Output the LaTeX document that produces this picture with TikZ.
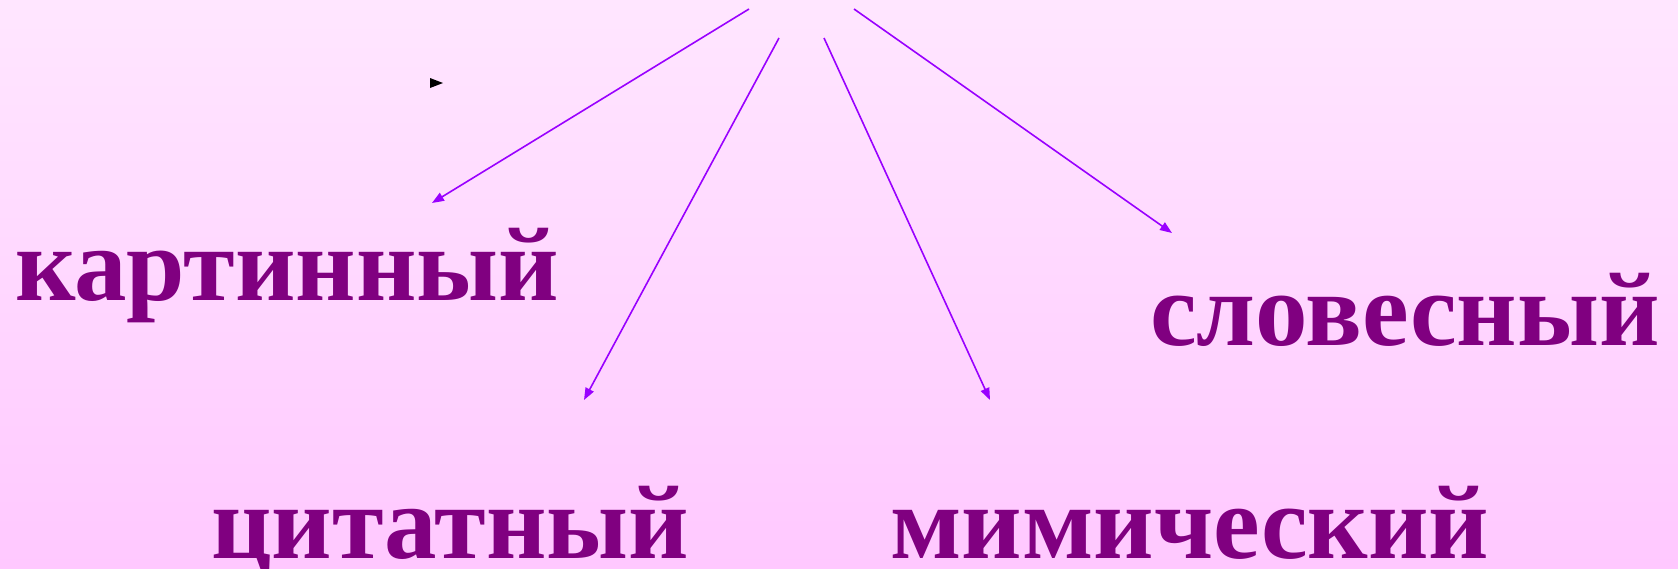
\documentclass[tikz,border=0pt]{standalone}
\usepackage{fontspec}
\setmainfont{Liberation Serif}
\usetikzlibrary{arrows.meta}
\definecolor{bgtop}{HTML}{FFE6FF}
\definecolor{bgbot}{HTML}{FFC8FF}
\definecolor{wordcol}{HTML}{800080}
\definecolor{arrcol}{HTML}{9900FF}
\tikzset{
  word/.style={anchor=base west, inner sep=0pt, text=wordcol, font=\fontsize{105}{110}\selectfont\bfseries},
  conn/.style={draw=arrcol, line width=1.6pt, -{Triangle[length=12pt,width=9pt]}}
}
\begin{document}
\begin{tikzpicture}[x=1pt,y=-1pt]
\useasboundingbox (0,0) rectangle (1678,568);
\shade[top color=bgtop, bottom color=bgbot] (0,0) rectangle (1678,568);
% words
\node[word] (kart) at (15,300) {картинный};
\node[word] (slov) at (1150,345) {словесный};
\node[word] (cit) at (211,558) {цитатный};
\node[word] (mim) at (890,558) {мимический};
% arrow ends
\coordinate (s1) at (749,9);
\coordinate (e1) at (432,203);
\coordinate (s2) at (779,38);
\coordinate (e2) at (584,400);
\coordinate (s3) at (824,38);
\coordinate (e3) at (990,400);
\coordinate (s4) at (854,9);
\coordinate (e4) at (1172,233);
\draw[conn] (s1) -- (e1);
\draw[conn] (s2) -- (e2);
\draw[conn] (s3) -- (e3);
\draw[conn] (s4) -- (e4);
% small black marker
\fill[black] (430,78) -- (443,83) -- (430,88) -- cycle;
\end{tikzpicture}
\end{document}
